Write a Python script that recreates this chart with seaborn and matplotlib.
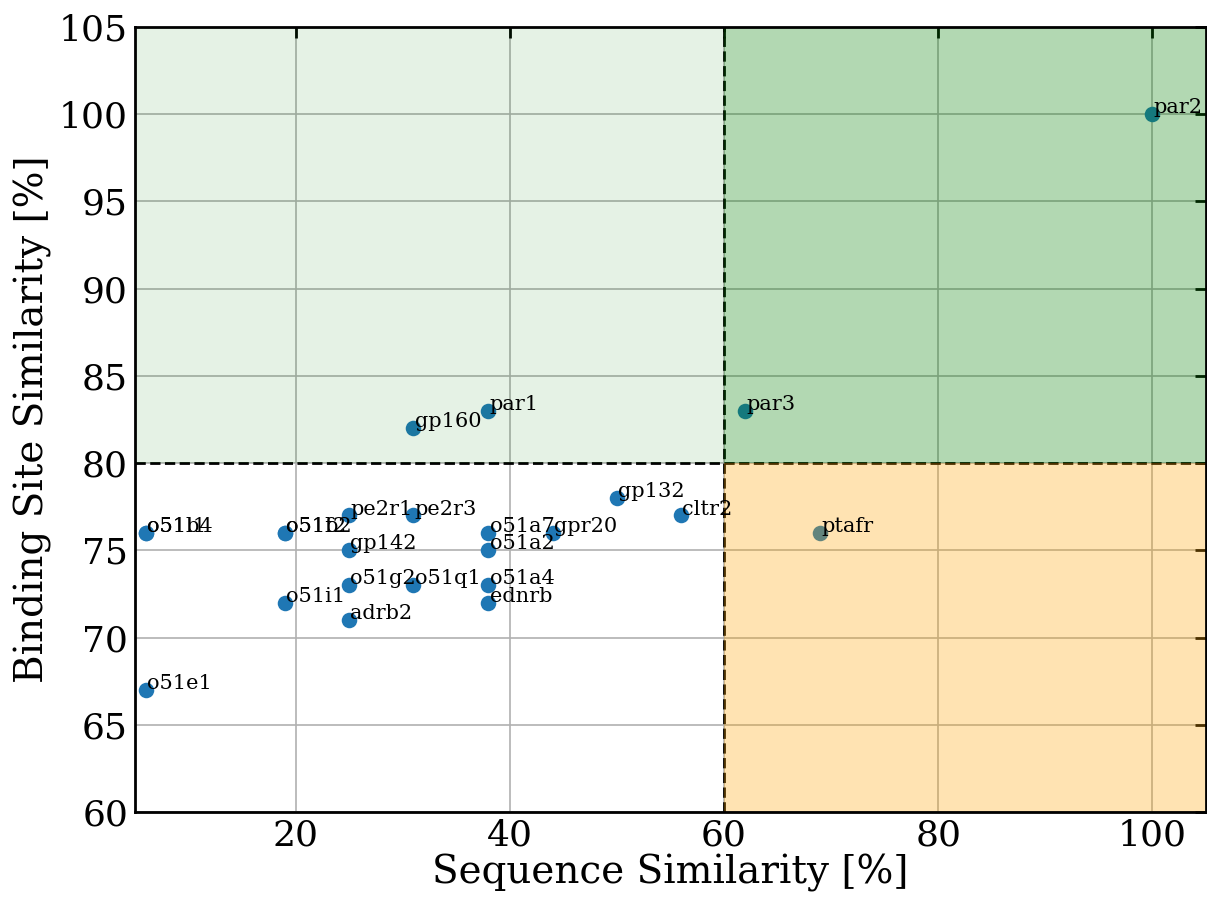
import matplotlib
matplotlib.use("Agg")
import matplotlib.pyplot as plt
import seaborn as sns
import pandas as pd

names = ["o51l1", "o51b4", "o51f2", "o51b2", "o51e1", "o51i1", "pe2r1", "gp142",
         "o51g2", "adrb2", "pe2r3", "o51q1", "gp160", "par1", "o51a7", "o51a2",
         "o51a4", "ednrb", "gpr20", "gp132", "cltr2", "par3", "ptafr", "par2"]
seq_sim = [6, 6, 19, 19, 6, 19, 25, 25, 25, 25, 31, 31, 31, 38, 38, 38, 38, 38,
           44, 50, 56, 62, 69, 100]
site_sim = [76, 76, 76, 76, 67, 72, 77, 75, 73, 71, 77, 73, 82, 83, 76, 75, 73, 72,
            76, 78, 77, 83, 76, 100]

x_ticks = [20, 40, 60, 80, 100]
y_ticks = [60, 65, 70, 75, 80, 85, 90, 95, 100, 105]
seq_cut = 60
site_cut = 80
x_range = (5, 105)
y_range = (60, 105)

sns.set_style("whitegrid")
plt.rcParams["font.family"] = ["DejaVu Serif"]
plt.rcParams["xtick.direction"] = "in"
plt.rcParams["ytick.direction"] = "in"
plt.rcParams["text.color"] = "black"
plt.rcParams["axes.labelcolor"] = "black"
plt.rcParams["xtick.color"] = "black"
plt.rcParams["ytick.color"] = "black"

df = pd.DataFrame({"seq": seq_sim, "site": site_sim, "name": names})

fig = plt.figure(figsize=(12.07, 9.01), dpi=100)
ax = fig.add_axes([135 / 1207, 89 / 901, 1071 / 1207, 785 / 901])

sns.scatterplot(data=df, x="seq", y="site", ax=ax, s=125, color="#1f77b4",
                linewidth=0, zorder=2)

for n, xv, yv in zip(names, seq_sim, site_sim):
    ax.text(xv + 0.1, yv + 0.05, n, fontsize=15, zorder=6, color="black")

ax.set_xlim(*x_range)
ax.set_ylim(*y_range)

ax.axvline(seq_cut, color="black", ls="--", lw=2, zorder=3)
ax.axhline(site_cut, color="black", ls="--", lw=2, zorder=3)

fx = (seq_cut - x_range[0]) / (x_range[1] - x_range[0])
ax.axhspan(site_cut, y_range[1], xmin=0, xmax=fx, color="green", alpha=0.1, lw=0, zorder=4)
ax.axhspan(site_cut, y_range[1], xmin=fx, xmax=1, color="green", alpha=0.3, lw=0, zorder=4)
ax.axhspan(y_range[0], site_cut, xmin=fx, xmax=1, color="orange", alpha=0.3, lw=0, zorder=4)

ax.set_xticks(x_ticks)
ax.set_yticks(y_ticks)
ax.grid(True, color="#b0b0b0", lw=1.2)
ax.set_axisbelow(True)
ax.tick_params(axis="both", which="major", labelsize=26, direction="in",
               length=8, width=2, top=True, right=True, color="black",
               labelcolor="black", pad=5)
for sp in ax.spines.values():
    sp.set_color("black")
    sp.set_linewidth(2)
    sp.set_zorder(7)

ax.set_xlabel("Sequence Similarity [%]", fontsize=28, labelpad=1, color="black")
ax.set_ylabel("Binding Site Similarity [%]", fontsize=28, labelpad=5, color="black")

fig.savefig("out.png", dpi=100)
